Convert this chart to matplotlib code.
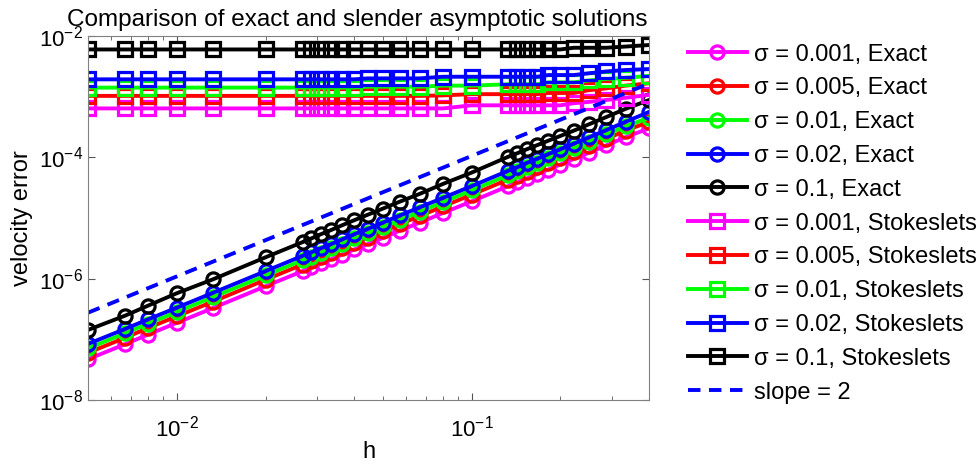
import matplotlib
matplotlib.use('Agg')
import matplotlib.pyplot as plt
from matplotlib.ticker import FixedLocator, NullLocator, LogLocator

plt.rcParams['font.family'] = ['Liberation Sans', 'DejaVu Sans']
plt.rcParams['mathtext.fontset'] = 'custom'
plt.rcParams['mathtext.rm'] = 'Liberation Sans'
plt.rcParams['mathtext.it'] = 'Liberation Sans:italic'
plt.rcParams['mathtext.default'] = 'regular'

# mesh sizes
h = [0.005, 0.00667, 0.008, 0.01, 0.0133, 0.02, 0.0267, 0.0286, 0.0308, 0.0333,
     0.0364, 0.04, 0.0444, 0.05, 0.0571, 0.0667, 0.08, 0.1, 0.133, 0.143,
     0.154, 0.167, 0.182, 0.2, 0.222, 0.25, 0.286, 0.333, 0.4]

sigmas = ['0.001', '0.005', '0.01', '0.02', '0.1']
colors = ['#ff00ff', '#ff0000', '#00ff00', '#0000ff', '#000000']

# exact errors (circles)
exact_001 = [4.7e-8, 8.3e-8, 1.2e-7, 1.87e-7, 3.3e-7, 7.5e-7, 1.33e-6, 1.53e-6, 1.78e-6, 2.08e-6,
             2.5e-6, 3.03e-6, 3.7e-6, 4.7e-6, 6.2e-6, 8.4e-6, 1.21e-5, 1.88e-5, 3.35e-5, 3.85e-5,
             4.5e-5, 5.3e-5, 6.3e-5, 7.6e-5, 9.4e-5, 1.19e-4, 1.57e-4, 2.15e-4, 3.0e-4]
exact_005 = [6.0e-8, 1.06e-7, 1.54e-7, 2.4e-7, 4.2e-7, 9.6e-7, 1.71e-6, 1.96e-6, 2.28e-6, 2.67e-6,
             3.2e-6, 3.9e-6, 4.75e-6, 6.0e-6, 7.9e-6, 1.08e-5, 1.55e-5, 2.42e-5, 4.3e-5, 4.95e-5,
             5.8e-5, 6.85e-5, 8.1e-5, 9.8e-5, 1.21e-4, 1.53e-4, 2.01e-4, 2.75e-4, 3.85e-4]
exact_01 = [7.1e-8, 1.26e-7, 1.82e-7, 2.83e-7, 5.0e-7, 1.13e-6, 2.02e-6, 2.32e-6, 2.7e-6, 3.15e-6,
            3.8e-6, 4.6e-6, 5.6e-6, 7.1e-6, 9.3e-6, 1.27e-5, 1.83e-5, 2.85e-5, 5.1e-5, 5.85e-5,
            6.9e-5, 8.1e-5, 9.6e-5, 1.16e-4, 1.43e-4, 1.81e-4, 2.38e-4, 3.25e-4, 4.5e-4]
exact_02 = [8.4e-8, 1.48e-7, 2.14e-7, 3.33e-7, 5.88e-7, 1.33e-6, 2.38e-6, 2.72e-6, 3.17e-6, 3.7e-6,
            4.45e-6, 5.4e-6, 6.6e-6, 8.4e-6, 1.1e-5, 1.5e-5, 2.15e-5, 3.35e-5, 6.0e-5, 6.9e-5,
            8.1e-5, 9.5e-5, 1.13e-4, 1.36e-4, 1.68e-4, 2.13e-4, 2.8e-4, 3.85e-4, 5.6e-4]
exact_1 = [1.43e-7, 2.45e-7, 3.6e-7, 5.75e-7, 9.8e-7, 2.25e-6, 4.0e-6, 4.6e-6, 5.4e-6, 6.3e-6,
           7.6e-6, 9.2e-6, 1.13e-5, 1.43e-5, 1.86e-5, 2.5e-5, 3.65e-5, 5.6e-5, 1.02e-4, 1.17e-4,
           1.36e-4, 1.59e-4, 1.88e-4, 2.25e-4, 2.75e-4, 3.5e-4, 4.6e-4, 6.3e-4, 8.8e-4]

# regularized stokeslet errors (squares)
stok_001 = [6.4e-4] * 17 + [7.2e-4] * 7 + [7.8e-4, 8.2e-4, 8.8e-4, 9.6e-4, 1.07e-3]
stok_005 = [1.03e-3] * 16 + [1.05e-3] + [1.1e-3] * 5 + [1.15e-3] * 3 + [1.28e-3, 1.37e-3, 1.52e-3, 1.66e-3]
stok_01 = [1.41e-3] * 12 + [1.46e-3] * 4 + [1.52e-3] * 2 + [1.6e-3] * 4 + [1.72e-3] * 3 + [1.85e-3, 1.95e-3, 2.05e-3, 2.2e-3]
stok_02 = [1.93e-3] * 12 + [2.0e-3] * 4 + [2.13e-3] * 6 + [2.27e-3] * 3 + [2.43e-3, 2.6e-3, 2.75e-3, 2.85e-3]
stok_1 = [6.0e-3] * 24 + [6.4e-3, 6.4e-3, 6.4e-3, 6.7e-3, 7.1e-3]

# reference slope line
slope_h = [0.005, 0.4]
slope_err = [2.75e-7, 1.65e-3]

exact = [exact_001, exact_005, exact_01, exact_02, exact_1]
stok = [stok_001, stok_005, stok_01, stok_02, stok_1]

fig = plt.figure(figsize=(9.79, 4.73), dpi=100)
ax = fig.add_axes([0.0899, 0.1543, 0.5731, 0.7696])

for s, c, e in zip(sigmas, colors, exact):
    ax.loglog(h, e, '-o', color=c, lw=2.8, ms=9.5, mew=2.3, mfc='none',
              label='σ = ' + s + ', Exact')
for s, c, e in zip(sigmas, colors, stok):
    ax.loglog(h, e, '-s', color=c, lw=2.8, ms=9.5, mew=2.3, mfc='none',
              label='σ = ' + s + ', Stokeslets')
ax.loglog(slope_h, slope_err, '--', color='#0000ff', lw=2.8, dashes=(3.2, 2.2), label='slope = 2')

ax.set_xlim(0.005, 0.4)
ax.set_ylim(1e-8, 1e-2)
ax.yaxis.set_major_locator(FixedLocator([1e-8, 1e-6, 1e-4, 1e-2]))
ax.yaxis.set_minor_locator(NullLocator())
ax.xaxis.set_minor_locator(LogLocator(base=10, subs=range(2, 10)))

for sp in ax.spines.values():
    sp.set_color('#808080')
ax.tick_params(which='both', direction='in', top=True, right=True, color='#555555',
               labelsize=16)
ax.tick_params(axis='x', pad=11)
ax.tick_params(axis='y', pad=3.5)
ax.tick_params(which='major', length=5)
ax.tick_params(which='minor', length=3)

ax.set_title('Comparison of exact and slender asymptotic solutions', fontsize=17.5, pad=7, x=0.48)
ax.set_xlabel('h', fontsize=17, labelpad=0)
ax.set_ylabel('velocity error', fontsize=17, labelpad=4)

fig.legend(loc='upper left', bbox_to_anchor=(0.693, 0.928), frameon=False, fontsize=17,
           handlelength=2.5, handletextpad=0.3, labelspacing=0.5, borderaxespad=0)

fig.savefig('out.png', dpi=100)
